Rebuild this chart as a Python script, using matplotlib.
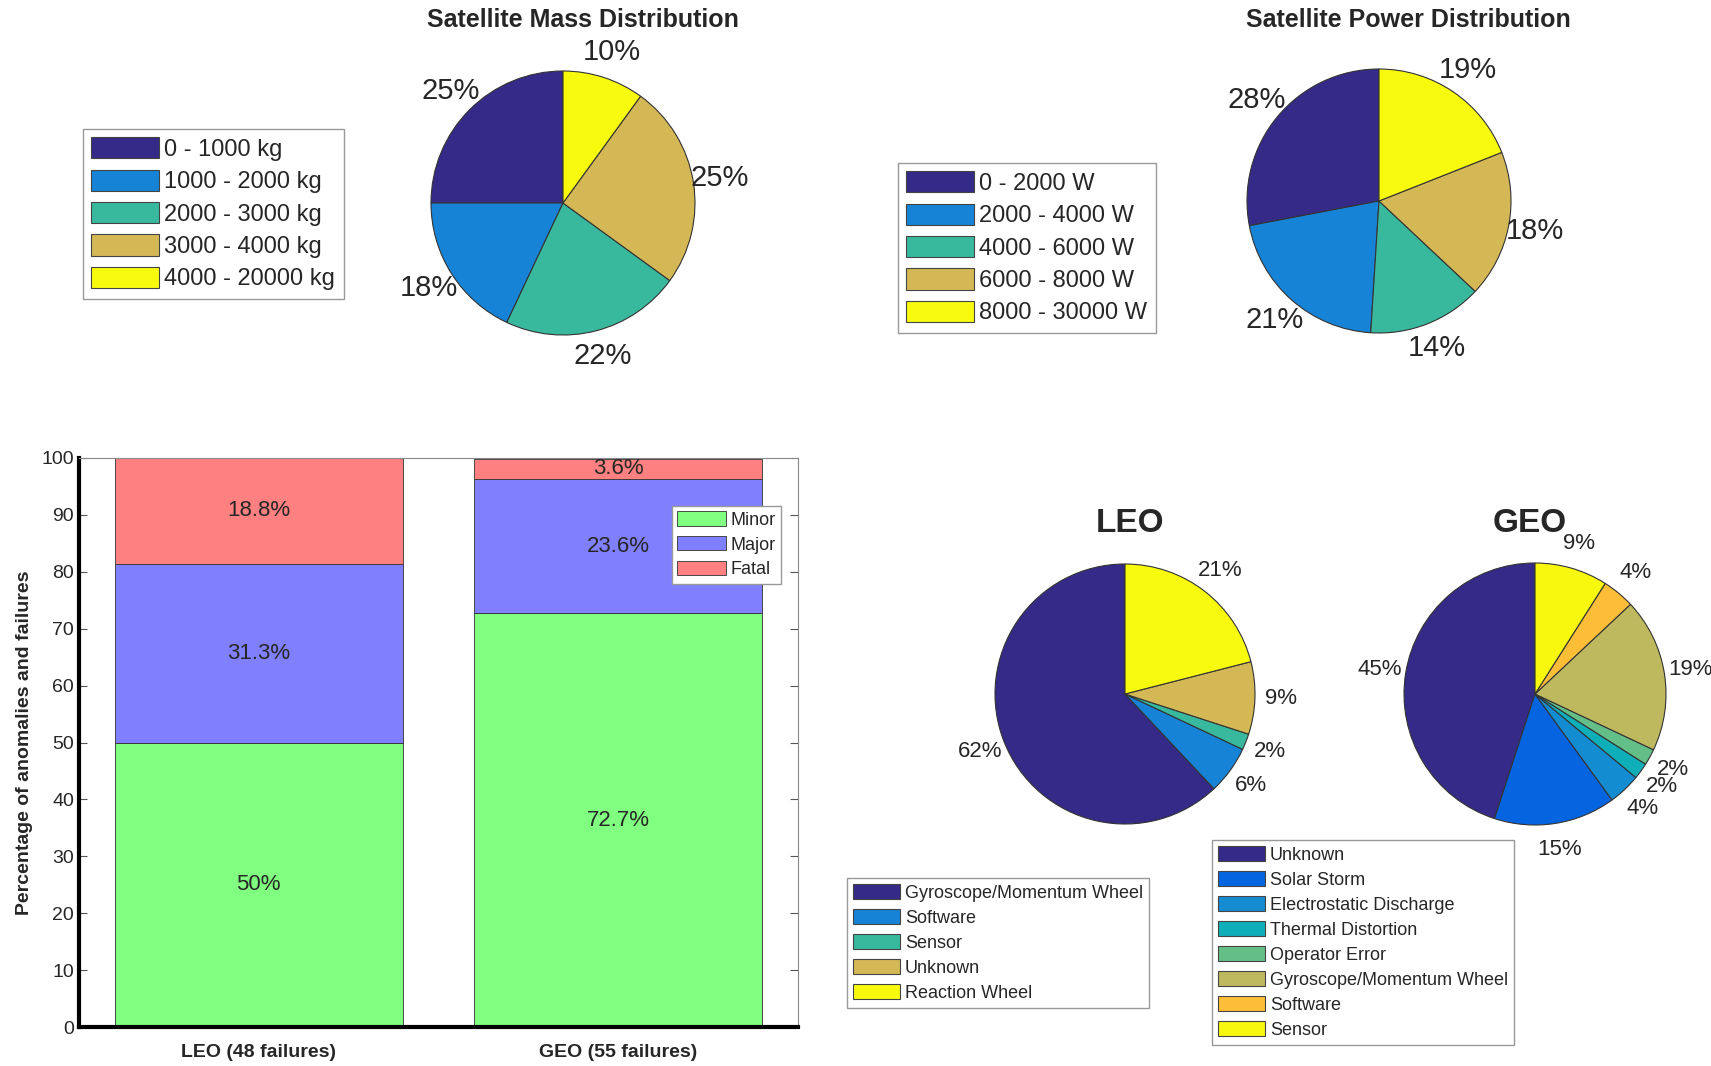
import numpy as np
import matplotlib.pyplot as plt

plt.rcParams['font.family'] = ['Liberation Sans', 'DejaVu Sans']

W, H = 1711, 1066

# ---- data ----
mass_labels = ['0 - 1000 kg', '1000 - 2000 kg', '2000 - 3000 kg', '3000 - 4000 kg', '4000 - 20000 kg']
mass_pct = [25, 18, 22, 25, 10]

power_labels = ['0 - 2000 W', '2000 - 4000 W', '4000 - 6000 W', '6000 - 8000 W', '8000 - 30000 W']
power_pct = [28, 21, 14, 18, 19]

orbits = ['LEO (48 failures)', 'GEO (55 failures)']
minor = [50, 72.7]
major = [31.3, 23.6]
fatal = [18.8, 3.6]

leo_labels = ['Gyroscope/Momentum Wheel', 'Software', 'Sensor', 'Unknown', 'Reaction Wheel']
leo_pct = [62, 6, 2, 9, 21]

geo_labels = ['Unknown', 'Solar Storm', 'Electrostatic Discharge', 'Thermal Distortion',
              'Operator Error', 'Gyroscope/Momentum Wheel', 'Software', 'Sensor']
geo_pct = [45, 15, 4, 2, 2, 19, 4, 9]

c5 = ['#352A87', '#1683D6', '#38B99E', '#D5B856', '#F8FA0D']
c8 = ['#352A87', '#0565E0', '#148CD2', '#0FAFB9', '#64BE87', '#BEB95F', '#FCBE37', '#F8F80E']
txt = '#262626'

fig = plt.figure(figsize=(W / 100, H / 100), dpi=100)


def px_axes(cx, cy, r):
    # square axes centred on a pixel position, radius r pixels
    return fig.add_axes([(cx - r) / W, 1 - (cy + r) / H, 2 * r / W, 2 * r / H])


def fpos(x, y):
    return (x / W, 1 - y / H)


def pie(ax, vals, cols, fs):
    ax.pie(vals, colors=cols, startangle=90, counterclock=True, radius=1,
           wedgeprops=dict(edgecolor='#333333', linewidth=0.8),
           autopct='%1.0f%%', pctdistance=1.2,
           textprops=dict(fontsize=fs, color=txt))
    ax.set_xlim(-1, 1)
    ax.set_ylim(-1, 1)
    ax.set_aspect('equal')
    ax.axis('off')


def legend(ax, labels, cols, x, y, fs, hl, hh, ls):
    handles = [plt.Rectangle((0, 0), 1, 1, facecolor=c, edgecolor='#444444', linewidth=0.8) for c in cols]
    lg = ax.legend(handles, labels, loc='upper left', bbox_to_anchor=fpos(x, y),
                   bbox_transform=fig.transFigure, fontsize=fs, handlelength=hl,
                   handleheight=hh, labelspacing=ls, handletextpad=0.25,
                   borderpad=0.35, borderaxespad=0, fancybox=False, framealpha=1,
                   edgecolor='#999999', labelcolor=txt)
    lg.get_frame().set_linewidth(1.0)
    return lg


# ---- top: mass ----
ax1 = px_axes(563, 203, 132)
pie(ax1, mass_pct, c5, 21)
fig.text(*fpos(583, 20), 'Satellite Mass Distribution', ha='center', va='center',
         fontsize=18, fontweight='bold', color=txt)
legend(ax1, mass_labels, c5, 83, 129, 17, 2.85, 1.0, 0.37)

# ---- top: power ----
ax2 = px_axes(1379, 201, 132)
pie(ax2, power_pct, c5, 21)
fig.text(*fpos(1408, 20), 'Satellite Power Distribution', ha='center', va='center',
         fontsize=18, fontweight='bold', color=txt)
legend(ax2, power_labels, c5, 898, 163, 17, 2.85, 1.0, 0.37)

# ---- bottom left: stacked bars ----
axb = fig.add_axes([79 / W, 1 - 1027 / H, (798 - 79) / W, (1027 - 458) / H])
x = np.arange(1, len(orbits) + 1)
bw = 0.8
bot2 = np.array(minor)
bot3 = bot2 + np.array(major)
axb.bar(x, minor, bw, color='#80FF80', edgecolor='#333333', linewidth=0.6, label='Minor')
axb.bar(x, major, bw, bottom=bot2, color='#8080FF', edgecolor='#333333', linewidth=0.6, label='Major')
axb.bar(x, fatal, bw, bottom=bot3, color='#FF8080', edgecolor='#333333', linewidth=0.6, label='Fatal')
for i in range(len(orbits)):
    axb.text(x[i], minor[i] / 2, '%g%%' % minor[i], ha='center', va='center', fontsize=16, color=txt)
    axb.text(x[i], bot2[i] + major[i] / 2, '%g%%' % major[i], ha='center', va='center', fontsize=16, color=txt)
    axb.text(x[i], bot3[i] + fatal[i] / 2, '%g%%' % fatal[i], ha='center', va='center', fontsize=16, color=txt)
axb.set_xlim(0.5, 2.5)
axb.set_ylim(0, 100)
axb.set_yticks(np.arange(0, 101, 10))
axb.set_xticks(x)
axb.set_xticklabels(orbits, fontsize=14, fontweight='bold', color=txt)
axb.tick_params(axis='y', direction='in', right=True, labelsize=14, labelcolor=txt, length=6, color='#555555')
axb.tick_params(axis='x', length=0, pad=12)
axb.set_ylabel('Percentage of anomalies and failures', fontsize=14, fontweight='bold', color=txt, labelpad=6)
for s in ['left', 'bottom']:
    axb.spines[s].set_linewidth(3)
    axb.spines[s].set_color('black')
for s in ['top', 'right']:
    axb.spines[s].set_linewidth(0.8)
    axb.spines[s].set_color('#888888')
axb.legend(loc='upper left', bbox_to_anchor=fpos(672, 506), bbox_transform=fig.transFigure,
           fontsize=13, handlelength=2.7, handleheight=0.85, labelspacing=0.4,
           handletextpad=0.25, borderpad=0.3, borderaxespad=0, fancybox=False,
           framealpha=1, edgecolor='#999999', labelcolor=txt)

# ---- bottom right: LEO / GEO pies ----
ax3 = px_axes(1125, 694, 130)
pie(ax3, leo_pct, c5, 16)
fig.text(*fpos(1130, 524), 'LEO', ha='center', va='center', fontsize=24, fontweight='bold', color=txt)
legend(ax3, leo_labels, c5, 847, 878, 13, 2.6, 0.9, 0.4)

ax4 = px_axes(1535, 694, 131)
pie(ax4, geo_pct, c8, 16)
fig.text(*fpos(1530, 524), 'GEO', ha='center', va='center', fontsize=24, fontweight='bold', color=txt)
legend(ax4, geo_labels, c8, 1212, 840, 13, 2.6, 0.9, 0.4)

fig.savefig('out.png', dpi=100)
